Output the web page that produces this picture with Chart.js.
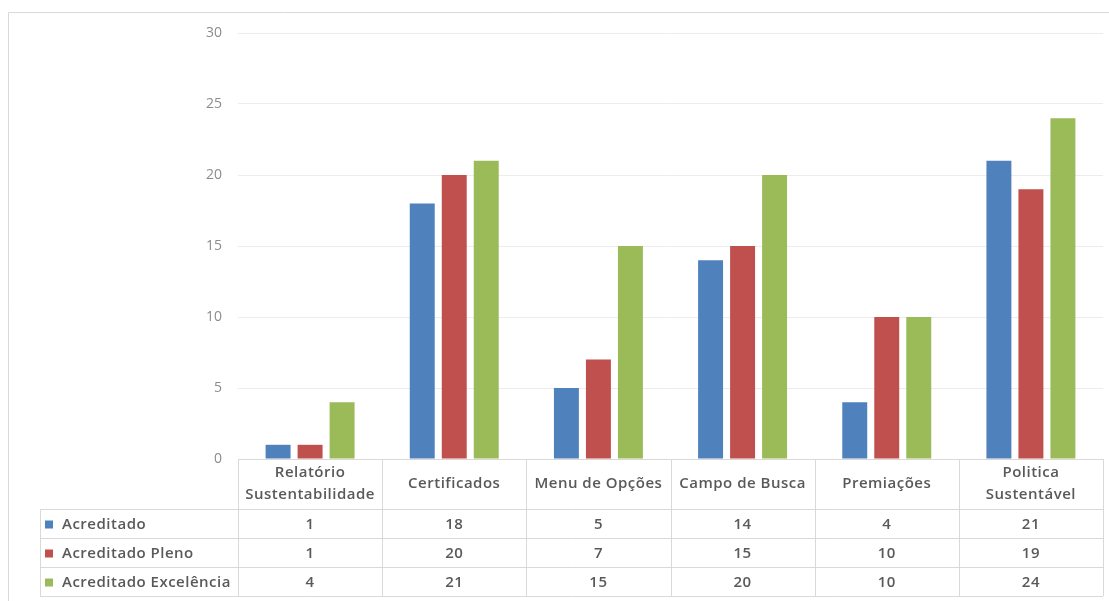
<!DOCTYPE html>
<html><head><meta charset="utf-8">
<script src="https://cdn.jsdelivr.net/npm/chart.js@4"></script>
<style>html,body{margin:0;padding:0;background:#fff}#wrap{width:1109px;height:601px;position:relative}canvas{display:block}</style>
</head><body><div id="wrap"><canvas id="c" width="1109" height="601"></canvas></div>
<script>
// Categories (multi-line labels are arrays of lines)
const categories = [['Relatório', 'Sustentabilidade'], ['Certificados'], ['Menu de Opções'], ['Campo de Busca'], ['Premiações'], ['Politica', 'Sustentável']];
const seriesNames = ['Acreditado', 'Acreditado Pleno', 'Acreditado Excelência'];
const acreditado = [1, 18, 5, 14, 4, 21];
const acreditadoPleno = [1, 20, 7, 15, 10, 19];
const acreditadoExcelencia = [4, 21, 15, 20, 10, 24];
const yTicks = [0, 5, 10, 15, 20, 25, 30];

const seriesValues = [acreditado, acreditadoPleno, acreditadoExcelencia];
const seriesColors = ['#4F81BD', '#C0504D', '#9BBB59'];
const FONT = '"Open Sans", Lato, sans-serif';
const TEXT = '#595959';
const LINE = '#d9d9d9';

// Frame around the whole chart
const framePlugin = {
  id: 'frame',
  beforeDraw(chart) {
    const ctx = chart.ctx;
    ctx.save();
    ctx.strokeStyle = LINE;
    ctx.lineWidth = 1;
    ctx.beginPath();
    ctx.moveTo(8.5, 601);
    ctx.lineTo(8.5, 12.5);
    ctx.lineTo(1109, 12.5);
    ctx.stroke();
    ctx.restore();
  }
};

// Data table under the plot: category header row, then one row per series
const dataTablePlugin = {
  id: 'dataTable',
  afterDraw(chart) {
    const ctx = chart.ctx;
    const xs = chart.scales.x;
    const area = chart.chartArea;
    const n = categories.length;
    const colW = (area.right - area.left) / n;
    const top = Math.round(area.bottom);
    const headH = 50, rowH = 29;
    const tableLeft = 40;
    const rowsTop = top + headH;
    const bottom = rowsTop + rowH * seriesNames.length;

    ctx.save();
    ctx.strokeStyle = LINE;
    ctx.lineWidth = 1;
    ctx.beginPath();
    // horizontal lines
    ctx.moveTo(area.left, top + 0.5); ctx.lineTo(area.right, top + 0.5);
    for (let r = 0; r <= seriesNames.length; r++) {
      const y = rowsTop + r * rowH + 0.5;
      ctx.moveTo(tableLeft, y); ctx.lineTo(area.right, y);
    }
    // vertical lines
    for (let i = 0; i <= n; i++) {
      const x = Math.round(area.left + i * colW) + 0.5;
      ctx.moveTo(x, top); ctx.lineTo(x, bottom);
    }
    ctx.moveTo(tableLeft + 0.5, rowsTop); ctx.lineTo(tableLeft + 0.5, bottom);
    ctx.stroke();

    ctx.fillStyle = TEXT;
    ctx.font = '600 15px ' + FONT;
    ctx.letterSpacing = '0.5px';
    ctx.textAlign = 'center';
    ctx.textBaseline = 'middle';
    // header labels
    categories.forEach((lines, i) => {
      const cx = xs.getPixelForValue(i);
      const lh = 22;
      const y0 = top + headH / 2 - (lines.length - 1) * lh / 2;
      lines.forEach((t, k) => ctx.fillText(t, cx, y0 + k * lh));
    });
    // series rows
    seriesNames.forEach((name, r) => {
      const cy = rowsTop + r * rowH + rowH / 2 + 1;
      ctx.fillStyle = seriesColors[r];
      ctx.fillRect(45, cy - 4, 8, 8);
      ctx.fillStyle = TEXT;
      ctx.textAlign = 'left';
      ctx.fillText(name, 62, cy);
      ctx.textAlign = 'center';
      seriesValues[r].forEach((v, i) => ctx.fillText(String(v), xs.getPixelForValue(i), cy));
    });
    ctx.restore();
  }
};

new Chart(document.getElementById('c'), {
  type: 'bar',
  data: {
    labels: categories,
    datasets: seriesNames.map((name, r) => ({
      label: name,
      data: seriesValues[r],
      backgroundColor: seriesColors[r],
      borderWidth: 0,
      categoryPercentage: 0.666,
      barPercentage: 0.78
    }))
  },
  options: {
    responsive: false,
    animation: false,
    devicePixelRatio: 1,
    layout: { padding: { left: 0, right: 6, top: 33, bottom: 142 } },
    plugins: { legend: { display: false }, tooltip: { enabled: false } },
    scales: {
      x: { display: false },
      y: {
        min: 0, max: 30,
        afterFit(scale) { scale.width = 238; },
        afterBuildTicks(scale) { scale.ticks = yTicks.map(v => ({ value: v })); },
        border: { display: false },
        grid: { color: '#ececec', lineWidth: 1, drawTicks: false },
        ticks: { padding: 16, color: '#8c8c8c', font: { family: FONT, size: 14 } }
      }
    }
  },
  plugins: [framePlugin, dataTablePlugin]
});
</script>
</body></html>
